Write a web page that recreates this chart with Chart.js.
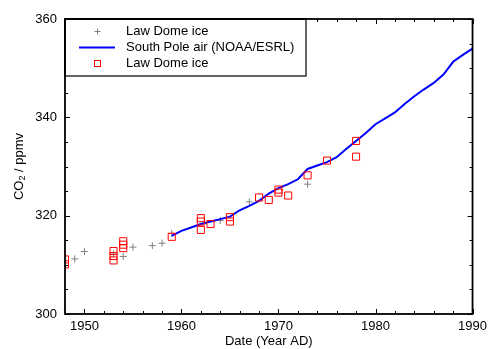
<!DOCTYPE html>
<html>
<head>
<meta charset="utf-8">
<script src="https://cdn.jsdelivr.net/npm/chart.js@4/dist/chart.umd.min.js"></script>
<style>
html,body{margin:0;padding:0;background:#fff;}
#wrap{width:492px;height:349px;}
</style>
</head>
<body>
<div id="wrap"><canvas id="c" width="492" height="349"></canvas></div>
<script>
// Law Dome ice (crosses)
const crossYears  = [1949.0, 1950.0, 1953.0, 1954.0, 1955.0, 1957.0, 1958.0, 1959.0, 1964.0, 1967.0, 1973.0];
const crossValues = [311.2, 312.7, 312.2, 311.7, 313.6, 313.9, 314.4, 316.4, 319.0, 322.8, 326.4];

// Law Dome ice (squares)
const squareYears  = [1948, 1948, 1953, 1953, 1953, 1954, 1954, 1954, 1959, 1962, 1962, 1962, 1963, 1965, 1965, 1968, 1969, 1970, 1970, 1971, 1973, 1975, 1978, 1978];
const squareValues = [311.1, 310.1, 312.8, 311.8, 310.9, 314.8, 314.1, 313.4, 315.7, 319.5, 318.8, 317.1, 318.3, 319.7, 318.8, 323.7, 323.2, 325.3, 324.7, 324.1, 328.2, 331.2, 335.2, 332.0];

// South Pole air (NOAA/ESRL)
const airYears  = [1959,1960,1961,1962,1963,1964,1965,1966,1967,1968,1969,1970,1971,1972,1973,1974,1975,1976,1977,1978,1979,1980,1981,1982,1983,1984,1985,1986,1987,1988,1989,1990];
const airValues = [315.9,316.9,317.6,318.3,318.8,319.3,319.8,321.1,322.0,323.0,324.5,325.6,326.4,327.4,329.5,330.2,330.9,331.9,333.6,335.2,336.8,338.6,339.8,341.0,342.7,344.3,345.7,347.0,348.7,351.3,352.7,354.0];

const xTickLabels = [1950, 1960, 1970, 1980, 1990];
const yTickLabels = [300, 320, 340, 360];
const legendLabels = ['Law Dome ice', 'South Pole air (NOAA/ESRL)', 'Law Dome ice'];

const FONT = '"Liberation Sans", Arial, sans-serif';

const toPts = (xs, ys) => xs.map((x, i) => ({x: x, y: ys[i]}));

const framePlugin = {
  id: 'frame',
  afterDatasetsDraw(chart) {
    const ctx = chart.ctx, a = chart.chartArea;
    const xs = chart.scales.x, ys = chart.scales.y;
    ctx.save();
    ctx.strokeStyle = '#000';
    // ticks (inward)
    ctx.lineWidth = 1;
    ctx.beginPath();
    for (let v = 1948; v <= 1990; v += 2) {
      const px = Math.round(xs.getPixelForValue(v)) + 0.5;
      const len = (v % 10 === 0) ? 5 : 3;
      ctx.moveTo(px, a.bottom); ctx.lineTo(px, a.bottom - len);
      ctx.moveTo(px, a.top); ctx.lineTo(px, a.top + len);
    }
    for (let v = 300; v <= 360; v += 5) {
      const py = Math.round(ys.getPixelForValue(v)) + 0.5;
      const len = (v % 20 === 0) ? 5 : 3;
      ctx.moveTo(a.left, py); ctx.lineTo(a.left + len, py);
      ctx.moveTo(a.right, py); ctx.lineTo(a.right - len, py);
    }
    ctx.stroke();
    // frame
    ctx.lineWidth = 1.8;
    ctx.strokeRect(a.left, a.top, a.right - a.left, a.bottom - a.top);

    // legend box
    const lx = a.left, ly = a.top, lw = 241, lh = 57;
    ctx.fillStyle = '#fff';
    ctx.fillRect(lx, ly, lw, lh);
    ctx.lineWidth = 1.2;
    ctx.strokeRect(lx, ly, lw, lh);
    ctx.lineWidth = 1.8;
    ctx.beginPath(); ctx.moveTo(lx, ly); ctx.lineTo(lx + lw, ly); ctx.moveTo(lx, ly); ctx.lineTo(lx, ly + lh); ctx.stroke();
    const rows = [ly + 12.5, ly + 28.5, ly + 44.5];
    const symX = lx + 32.5;
    // cross symbol
    ctx.strokeStyle = '#808080'; ctx.lineWidth = 1;
    ctx.beginPath();
    ctx.moveTo(symX - 3, rows[0]); ctx.lineTo(symX + 3, rows[0]);
    ctx.moveTo(symX, rows[0] - 3); ctx.lineTo(symX, rows[0] + 3);
    ctx.stroke();
    // line symbol
    ctx.strokeStyle = '#0000ff'; ctx.lineWidth = 2;
    ctx.beginPath(); ctx.moveTo(lx + 14, rows[1]); ctx.lineTo(lx + 50, rows[1]); ctx.stroke();
    // square symbol
    ctx.strokeStyle = '#ff0000'; ctx.lineWidth = 1;
    ctx.strokeRect(symX - 3, rows[2] - 3, 6, 6);
    ctx.fillStyle = '#000';
    ctx.font = '13px ' + FONT;
    ctx.textAlign = 'left'; ctx.textBaseline = 'middle';
    legendLabels.forEach((t, i) => ctx.fillText(t, lx + 61, rows[i]));

    // x title
    ctx.textAlign = 'center'; ctx.textBaseline = 'middle';
    ctx.fillText('Date (Year AD)', (a.left + a.right) / 2, 341);

    // y title with subscript
    ctx.save();
    ctx.translate(19, (a.top + a.bottom) / 2);
    ctx.rotate(-Math.PI / 2);
    const p1 = 'CO', p3 = ' / ppmv';
    ctx.font = '9px ' + FONT; const w2 = ctx.measureText('2').width;
    ctx.font = '13px ' + FONT;
    const w1 = ctx.measureText(p1).width, w3 = ctx.measureText(p3).width;
    const total = w1 + w2 + w3;
    let sx = -total / 2;
    ctx.textAlign = 'left'; ctx.textBaseline = 'middle';
    ctx.fillText(p1, sx, 0); sx += w1;
    ctx.font = '9px ' + FONT; ctx.fillText('2', sx, 4); sx += w2;
    ctx.font = '13px ' + FONT; ctx.fillText(p3, sx, 0);
    ctx.restore();
    ctx.restore();
  }
};

new Chart(document.getElementById('c'), {
  type: 'scatter',
  data: {
    datasets: [
      {
        label: legendLabels[2],
        data: toPts(squareYears, squareValues),
        pointStyle: 'rect', pointRadius: 5, pointBorderWidth: 1,
        borderColor: '#ff0000', backgroundColor: 'rgba(0,0,0,0)',
        showLine: false, order: 0, clip: 0
      },
      {
        label: legendLabels[1],
        data: toPts(airYears, airValues),
        showLine: true, borderColor: '#0000ff', borderWidth: 2,
        pointRadius: 0, tension: 0, fill: false, order: 1, clip: 0
      },
      {
        label: legendLabels[0],
        data: toPts(crossYears, crossValues),
        pointStyle: 'cross', pointRadius: 3.5, pointBorderWidth: 1,
        borderColor: '#808080', backgroundColor: '#808080',
        showLine: false, order: 2, clip: 0
      }
    ]
  },
  options: {
    responsive: false,
    animation: false,
    events: [],
    layout: { padding: { top: 19, right: 19, left: 0, bottom: 0 } },
    plugins: { legend: { display: false }, tooltip: { enabled: false } },
    scales: {
      x: {
        type: 'linear', min: 1948, max: 1990,
        afterBuildTicks: s => { s.ticks = xTickLabels.map(v => ({value: v})); },
        afterFit: s => { s.height = 35; },
        grid: { display: false, drawTicks: false },
        border: { display: false },
        ticks: { color: '#000', font: { size: 13, family: FONT }, padding: 5, maxRotation: 0, autoSkip: false,
                 callback: v => String(v) }
      },
      y: {
        type: 'linear', min: 300, max: 360,
        afterBuildTicks: s => { s.ticks = yTickLabels.map(v => ({value: v})); },
        afterFit: s => { s.width = 65; },
        grid: { display: false, drawTicks: false },
        border: { display: false },
        ticks: { color: '#000', font: { size: 13, family: FONT }, padding: 8, autoSkip: false,
                 callback: v => String(v) }
      }
    }
  },
  plugins: [framePlugin]
});
</script>
</body>
</html>
